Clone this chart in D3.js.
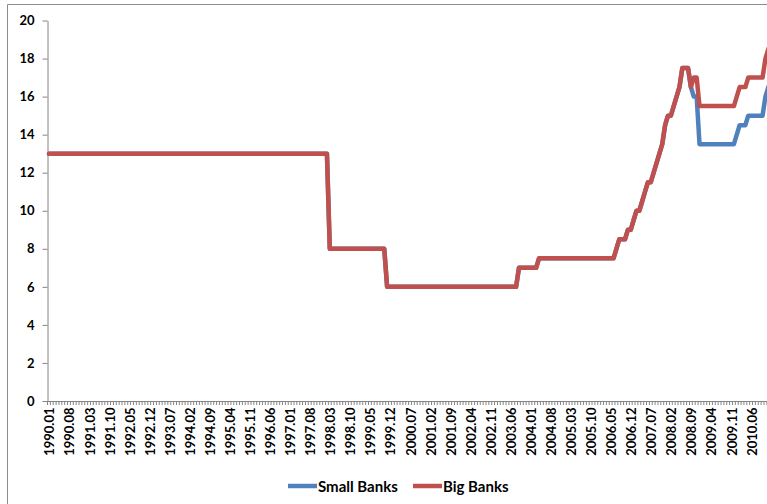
<!DOCTYPE html>
<html>
<head>
<meta charset="utf-8">
<script src="https://cdn.jsdelivr.net/npm/d3@7"></script>
<style>
  html, body { margin: 0; padding: 0; background: #fff; }
  svg { display: block; font-family: Lato, "Open Sans", sans-serif; }
</style>
</head>
<body>
<svg id="chart" width="767" height="504"></svg>
<script>
// Required reserve ratio (%), monthly, 1990.01 – 2010.12
const years = [1990, 1991, 1992, 1993, 1994, 1995, 1996, 1997, 1998, 1999, 2000,
               2001, 2002, 2003, 2004, 2005, 2006, 2007, 2008, 2009, 2010];
const monthCodes = ["01","02","03","04","05","06","07","08","09","10","11","12"];

// Big banks, one row per year
const bigBanks = [
  13,13,13,13,13,13,13,13,13,13,13,13,   // 1990
  13,13,13,13,13,13,13,13,13,13,13,13,   // 1991
  13,13,13,13,13,13,13,13,13,13,13,13,   // 1992
  13,13,13,13,13,13,13,13,13,13,13,13,   // 1993
  13,13,13,13,13,13,13,13,13,13,13,13,   // 1994
  13,13,13,13,13,13,13,13,13,13,13,13,   // 1995
  13,13,13,13,13,13,13,13,13,13,13,13,   // 1996
  13,13,13,13,13,13,13,13,13,13,13,13,   // 1997
  13,13,8,8,8,8,8,8,8,8,8,8,             // 1998
  8,8,8,8,8,8,8,8,8,8,6,6,               // 1999
  6,6,6,6,6,6,6,6,6,6,6,6,               // 2000
  6,6,6,6,6,6,6,6,6,6,6,6,               // 2001
  6,6,6,6,6,6,6,6,6,6,6,6,               // 2002
  6,6,6,6,6,6,6,6,7,7,7,7,               // 2003
  7,7,7,7.5,7.5,7.5,7.5,7.5,7.5,7.5,7.5,7.5,          // 2004
  7.5,7.5,7.5,7.5,7.5,7.5,7.5,7.5,7.5,7.5,7.5,7.5,    // 2005
  7.5,7.5,7.5,7.5,7.5,7.5,8,8.5,8.5,8.5,9,9,          // 2006
  9.5,10,10,10.5,11,11.5,11.5,12,12.5,13,13.5,14.5,   // 2007
  15,15,15.5,16,16.5,17.5,17.5,17.5,16.5,17,17,15.5,  // 2008
  15.5,15.5,15.5,15.5,15.5,15.5,15.5,15.5,15.5,15.5,15.5,15.5, // 2009
  16,16.5,16.5,16.5,17,17,17,17,17,17,18,18.5         // 2010
];

// Small banks, one row per year
const smallBanks = [
  13,13,13,13,13,13,13,13,13,13,13,13,   // 1990
  13,13,13,13,13,13,13,13,13,13,13,13,   // 1991
  13,13,13,13,13,13,13,13,13,13,13,13,   // 1992
  13,13,13,13,13,13,13,13,13,13,13,13,   // 1993
  13,13,13,13,13,13,13,13,13,13,13,13,   // 1994
  13,13,13,13,13,13,13,13,13,13,13,13,   // 1995
  13,13,13,13,13,13,13,13,13,13,13,13,   // 1996
  13,13,13,13,13,13,13,13,13,13,13,13,   // 1997
  13,13,8,8,8,8,8,8,8,8,8,8,             // 1998
  8,8,8,8,8,8,8,8,8,8,6,6,               // 1999
  6,6,6,6,6,6,6,6,6,6,6,6,               // 2000
  6,6,6,6,6,6,6,6,6,6,6,6,               // 2001
  6,6,6,6,6,6,6,6,6,6,6,6,               // 2002
  6,6,6,6,6,6,6,6,7,7,7,7,               // 2003
  7,7,7,7.5,7.5,7.5,7.5,7.5,7.5,7.5,7.5,7.5,          // 2004
  7.5,7.5,7.5,7.5,7.5,7.5,7.5,7.5,7.5,7.5,7.5,7.5,    // 2005
  7.5,7.5,7.5,7.5,7.5,7.5,8,8.5,8.5,8.5,9,9,          // 2006
  9.5,10,10,10.5,11,11.5,11.5,12,12.5,13,13.5,14.5,   // 2007
  15,15,15.5,16,16.5,17.5,17.5,17.5,16.5,16,16,13.5,  // 2008
  13.5,13.5,13.5,13.5,13.5,13.5,13.5,13.5,13.5,13.5,13.5,13.5, // 2009
  14,14.5,14.5,14.5,15,15,15,15,15,15,16,16.5         // 2010
];

const yTicks = [0, 2, 4, 6, 8, 10, 12, 14, 16, 18, 20];
const labelEvery = 7;

const seriesNames = ["Small Banks", "Big Banks"];
const seriesColors = ["#4F81BD", "#C0504D"];

// month categories "YYYY.MM"
const months = [];
years.forEach(y => monthCodes.forEach(m => months.push(y + "." + m)));

const svg = d3.select("#chart");

// chart area border (left and top edges fall inside the view)
svg.append("path")
  .attr("d", "M7.5,504 V4.5 H767")
  .attr("fill", "none")
  .attr("stroke", "#8c8c8c")
  .attr("stroke-width", 1);

const plotLeft = 47.5, plotTop = 20.5, plotBottom = 401;
const step = 2.866;

const x = d3.scaleBand()
  .domain(months)
  .range([plotLeft, plotLeft + months.length * step])
  .paddingInner(0).paddingOuter(0);

const y = d3.scaleLinear().domain([0, 20]).range([plotBottom, plotTop]);

const cx = m => x(m) + x.bandwidth() / 2;

// y axis
const yAxis = svg.append("g")
  .attr("transform", `translate(${plotLeft},0)`)
  .call(d3.axisLeft(y).tickValues(yTicks).tickSize(5).tickSizeOuter(0).tickPadding(8));
yAxis.select(".domain").attr("stroke", "#868686");
yAxis.selectAll(".tick line").attr("stroke", "#868686");
yAxis.selectAll(".tick text")
  .attr("font-family", "Lato, sans-serif")
  .attr("font-weight", "bold")
  .attr("font-size", 13)
  .attr("fill", "#000");

// x axis: a tick mark at every month boundary
const xTickAxis = svg.append("g")
  .attr("transform", `translate(0,${plotBottom})`)
  .call(d3.axisBottom(x).tickValues(months).tickSize(4).tickSizeOuter(0).tickFormat(""));
xTickAxis.selectAll(".tick").attr("transform", d => `translate(${x(d)},0)`);
xTickAxis.select(".domain").attr("stroke", "#868686");
xTickAxis.selectAll(".tick line").attr("stroke", "#868686");

// x axis labels every seventh month, rotated
const labelMonths = months.filter((m, i) => i % labelEvery === 0);
const xLabelAxis = svg.append("g")
  .attr("transform", `translate(0,${plotBottom})`)
  .call(d3.axisBottom(x).tickValues(labelMonths).tickSize(0).tickSizeOuter(0));
xLabelAxis.select(".domain").remove();
xLabelAxis.selectAll(".tick text")
  .attr("font-family", "Lato, sans-serif")
  .attr("font-weight", "bold")
  .attr("font-size", 13)
  .attr("fill", "#000")
  .attr("text-anchor", "end")
  .attr("dominant-baseline", "central")
  .attr("transform", "translate(0.5,6.5) rotate(-90)")
  .attr("x", 0).attr("y", 0).attr("dy", null);

// series lines (small banks first, big banks drawn over)
const line = d3.line()
  .x((d, i) => cx(months[i]))
  .y(d => y(d));

[smallBanks, bigBanks].forEach((vals, k) => {
  svg.append("path")
    .datum(vals)
    .attr("d", line)
    .attr("fill", "none")
    .attr("stroke", seriesColors[k])
    .attr("stroke-width", 4.5)
    .attr("stroke-linejoin", "round")
    .attr("stroke-linecap", "round");
});

// legend
const legendItems = [
  { name: seriesNames[0], color: seriesColors[0], x: 288 },
  { name: seriesNames[1], color: seriesColors[1], x: 413 }
];
const legend = svg.append("g");
legendItems.forEach(it => {
  legend.append("line")
    .attr("x1", it.x).attr("x2", it.x + 29)
    .attr("y1", 486).attr("y2", 486)
    .attr("stroke", it.color).attr("stroke-width", 4.5);
  legend.append("text")
    .attr("x", it.x + 30).attr("y", 486)
    .attr("dominant-baseline", "central")
    .attr("font-family", "Lato, sans-serif")
    .attr("font-weight", "bold")
    .attr("font-size", 15)
    .attr("fill", "#000")
    .text(it.name);
});
</script>
</body>
</html>
